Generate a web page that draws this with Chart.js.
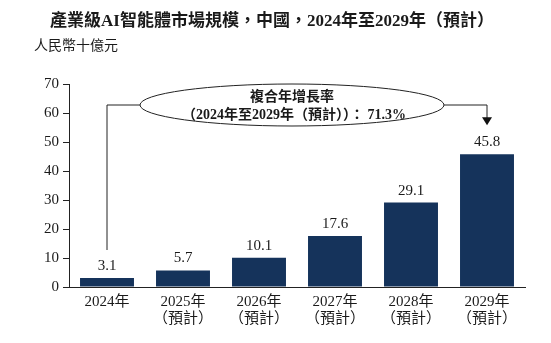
<!DOCTYPE html>
<html>
<head>
<meta charset="utf-8">
<script src="https://cdn.jsdelivr.net/npm/chart.js@4.4.1/dist/chart.umd.min.js"></script>
<style>
    html, body { margin: 0; padding: 0; background: #fff; }
    #wrap { width: 551px; height: 343px; position: relative; }
</style>
</head>
<body>
<div id="wrap"><canvas id="marketChart"></canvas></div>
<script>
// Chart data
const years = ['2024年', '2025年', '2026年', '2027年', '2028年', '2029年'];
const forecastNote = '（預計）';
const marketSize = [3.1, 5.7, 10.1, 17.6, 29.1, 45.8];
const yTicks = [0, 10, 20, 30, 40, 50, 60, 70];

const titleText = '產業級AI智能體市場規模，中國，2024年至2029年（預計）';
const unitText = '人民幣十億元';
const cagrLabel = '複合年增長率';
const cagrText = '（2024年至2029年（預計））： 71.3%';

const serif = '"Liberation Serif", "Noto Sans CJK TC", serif';
const barColor = '#15335b';
const textColor = '#1a1a1a';

// x labels: first year is actual, rest forecast
const xLabels = years.map((y, i) => i === 0 ? [y] : [y, forecastNote]);

// Draw title, unit, value labels and the CAGR bubble
const annotations = {
    id: 'annotations',
    afterDatasetsDraw(chart) {
        const ctx = chart.ctx;
        const meta = chart.getDatasetMeta(0);
        ctx.save();
        ctx.fillStyle = textColor;
        ctx.textAlign = 'center';
        ctx.textBaseline = 'middle';

        ctx.font = 'bold 17px ' + serif;
        ctx.fillText(titleText, 272, 22);

        ctx.textAlign = 'left';
        ctx.font = '14px ' + serif;
        ctx.fillText(unitText, 34, 46);

        // value labels above each bar
        ctx.textAlign = 'center';
        ctx.font = '15px ' + serif;
        meta.data.forEach((bar, i) => {
            ctx.fillText(marketSize[i].toFixed(1), bar.x, bar.y - 12);
        });

        // ellipse
        const cx = 292, cy = 105, rx = 152, ry = 21;
        ctx.strokeStyle = '#222';
        ctx.lineWidth = 1;
        ctx.beginPath();
        ctx.ellipse(cx, cy, rx, ry, 0, 0, Math.PI * 2);
        ctx.stroke();

        ctx.font = 'bold 14px ' + serif;
        ctx.fillText(cagrLabel, cx, 97);
        ctx.fillText(cagrText, cx + 2, 115);

        // connector to first bar
        const first = meta.data[0];
        const last = meta.data[meta.data.length - 1];
        ctx.beginPath();
        ctx.moveTo(cx - rx, cy);
        ctx.lineTo(first.x, cy);
        ctx.lineTo(first.x, first.y - 28);
        ctx.stroke();

        // connector with arrow to last bar
        const tipY = last.y - 29;
        ctx.beginPath();
        ctx.moveTo(cx + rx, cy);
        ctx.lineTo(last.x, cy);
        ctx.lineTo(last.x, tipY - 7);
        ctx.stroke();
        ctx.fillStyle = '#111';
        ctx.beginPath();
        ctx.moveTo(last.x - 5, tipY - 8);
        ctx.lineTo(last.x + 5, tipY - 8);
        ctx.lineTo(last.x, tipY);
        ctx.closePath();
        ctx.fill();
        ctx.restore();
    }
};

new Chart(document.getElementById('marketChart'), {
    type: 'bar',
    data: {
        labels: xLabels,
        datasets: [{
            data: marketSize,
            backgroundColor: barColor,
            barPercentage: 0.71,
            categoryPercentage: 1
        }]
    },
    options: {
        responsive: true,
        maintainAspectRatio: false,
        animation: false,
        layout: {
            padding: { left: 0, right: 26, top: 84, bottom: 0 }
        },
        plugins: {
            legend: { display: false },
            tooltip: { enabled: false }
        },
        scales: {
            x: {
                grid: { display: false, drawTicks: false },
                border: { display: true, color: '#222', width: 1 },
                ticks: {
                    color: textColor,
                    font: { family: serif, size: 15, lineHeight: 1.1 },
                    padding: 7,
                    maxRotation: 0
                },
                afterFit(scale) { scale.height = 56; }
            },
            y: {
                min: 0,
                max: 70,
                afterBuildTicks(scale) {
                    scale.ticks = yTicks.map(v => ({ value: v }));
                },
                grid: {
                    display: true,
                    drawOnChartArea: false,
                    drawTicks: true,
                    tickLength: 6,
                    color: '#222'
                },
                border: { display: true, color: '#222', width: 1 },
                ticks: {
                    color: textColor,
                    font: { family: serif, size: 15 },
                    padding: 4
                },
                afterFit(scale) { scale.width = 69; }
            }
        }
    },
    plugins: [annotations]
});
</script>
</body>
</html>
